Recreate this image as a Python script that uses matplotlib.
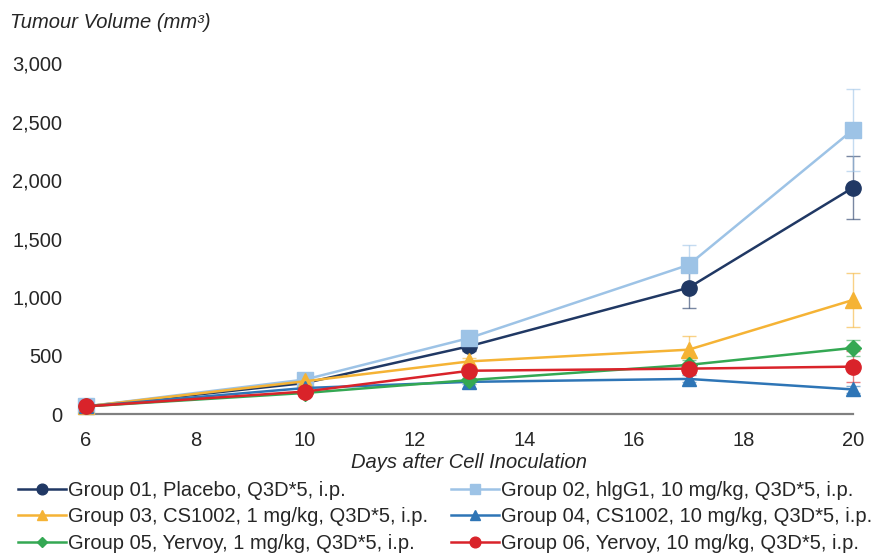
import numpy as np
import matplotlib
matplotlib.use('Agg')
import matplotlib.pyplot as plt

plt.rcParams['font.family'] = ['Liberation Sans', 'DejaVu Sans']

days = [6, 10, 13, 17, 20]

# mean tumour volume per group (mm3) and error (sem)
g01 = [65, 265, 580, 1080, 1935]
g02 = [65, 295, 650, 1275, 2430]
g03 = [65, 280, 450, 550, 975]
g04 = [65, 222, 275, 300, 210]
g05 = [65, 180, 290, 420, 565]
g06 = [65, 192, 370, 388, 405]

e01 = [5, 20, 40, 170, 270]
e02 = [5, 25, 50, 170, 350]
e03 = [5, 20, 30, 120, 230]
e04 = [5, 15, 20, 30, 30]
e05 = [5, 15, 20, 40, 70]
e06 = [5, 15, 25, 40, 130]

labels = ['Group 01, Placebo, Q3D*5, i.p.',
          'Group 02, hlgG1, 10 mg/kg, Q3D*5, i.p.',
          'Group 03, CS1002, 1 mg/kg, Q3D*5, i.p.',
          'Group 04, CS1002, 10 mg/kg, Q3D*5, i.p.',
          'Group 05, Yervoy, 1 mg/kg, Q3D*5, i.p.',
          'Group 06, Yervoy, 10 mg/kg, Q3D*5, i.p.']

series = [g01, g02, g03, g04, g05, g06]
errs = [e01, e02, e03, e04, e05, e06]
colors = ['#203864', '#9dc3e6', '#f5b335', '#2e75b6', '#34a853', '#d9232a']
markers = ['o', 's', '^', '^', 'D', 'o']
msizes = [11, 11, 11, 10, 8, 11]

fs = 14.5
fig = plt.figure(figsize=(8.77, 5.54), dpi=100)
ax = fig.add_axes([0.098, 0.2527, 0.8746, 0.6333])

handles = []
for s, e, c, m, ms, lab in zip(series, errs, colors, markers, msizes, labels):
  ax.errorbar(days, s, yerr=e, fmt='none', ecolor=c, elinewidth=1, capsize=5, alpha=0.6, clip_on=False, zorder=2)
  h, = ax.plot(days, s, color=c, lw=1.8, marker=m, markersize=ms, label=lab, clip_on=False, zorder=3)
  handles.append(h)

ax.set_xlim(6, 20)
ax.set_ylim(0, 3000)
ax.set_xticks([6, 8, 10, 12, 14, 16, 18, 20])
ax.set_yticks(np.arange(0, 3001, 500))
ax.set_yticklabels(['{:,}'.format(v) for v in range(0, 3001, 500)])
ax.tick_params(length=0, labelsize=fs, colors='#262626')
ax.tick_params(axis='x', pad=12)
ax.tick_params(axis='y', pad=17)
for sp in ['top', 'right', 'left']:
  ax.spines[sp].set_visible(False)
ax.spines['bottom'].set_color('#808080')
ax.spines['bottom'].set_linewidth(1.6)

fig.text(0.535, 1 - 462 / 554, 'Days after Cell Inoculation', ha='center', va='center', style='italic', fontsize=fs, color='#262626')
fig.text(10 / 877, 1 - 22 / 554, 'Tumour Volume (mm³)', ha='left', va='center', style='italic', fontsize=fs, color='#262626')

order = [0, 2, 4, 1, 3, 5]
leg = fig.legend([handles[i] for i in order], [labels[i] for i in order], ncol=2,
                 loc='upper left', bbox_to_anchor=(18 / 877, 1 - 481 / 554), frameon=False,
                 fontsize=fs, handlelength=2.4, handletextpad=0.1, columnspacing=1.1,
                 labelspacing=0.37, markerscale=0.7, borderpad=0, borderaxespad=0)
for t in leg.get_texts():
  t.set_color('#262626')

plt.savefig('out.png', dpi=100)
